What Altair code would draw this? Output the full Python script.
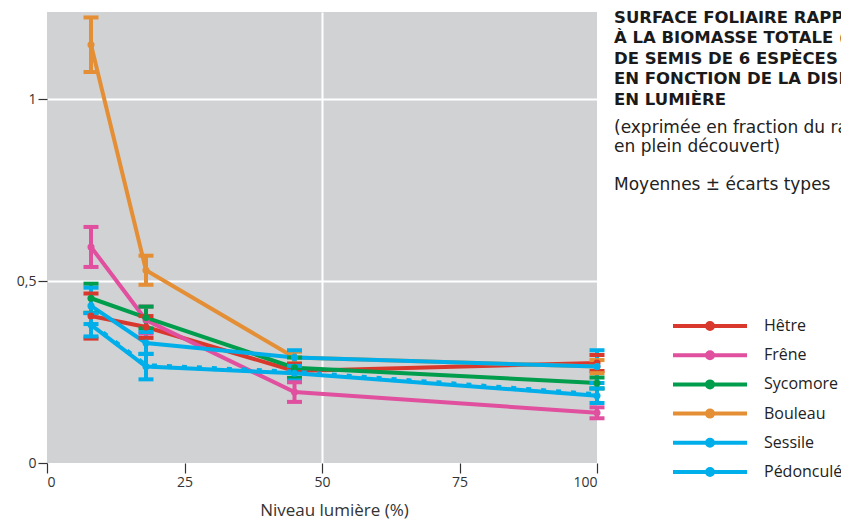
import altair as alt
import pandas as pd

# ---- data ----
light = [8, 18, 45, 100]
species = ["Hêtre", "Frêne", "Sycomore", "Bouleau", "Sessile", "Pédonculé"]
colors = ["#d9382c", "#e0509e", "#009d4c", "#e48f35", "#00aeea", "#00aeea"]

hetre_mean = [0.404, 0.374, 0.253, 0.275]
hetre_sd = [0.062, 0.030, 0.020, 0.022]
frene_mean = [0.594, 0.393, 0.195, 0.138]
frene_sd = [0.055, 0.037, 0.027, 0.015]
sycomore_mean = [0.453, 0.400, 0.262, 0.220]
sycomore_sd = [0.040, 0.030, 0.028, 0.015]
bouleau_mean = [1.150, 0.530, 0.290, 0.265]
bouleau_sd = [0.075, 0.040, 0.016, 0.018]
sessile_mean = [0.432, 0.330, 0.290, 0.265]
sessile_sd = [0.050, 0.030, 0.020, 0.045]
pedoncule_mean = [0.380, 0.265, 0.247, 0.185]
pedoncule_sd = [0.032, 0.035, 0.020, 0.020]

x_ticks = [0, 25, 50, 75, 100]
y_ticks = [0, 0.5, 1]

title_lines = [
    "SURFACE FOLIAIRE RAPPORTÉE",
    "À LA BIOMASSE TOTALE (LAR)",
    "DE SEMIS DE 6 ESPÈCES",
    "EN FONCTION DE LA DISPONIBILITÉ",
    "EN LUMIÈRE",
]
subtitle_lines = [
    "(exprimée en fraction du rayonnement",
    "en plein découvert)",
    "\u200b",
    "Moyennes ± écarts types",
]

means = [hetre_mean, frene_mean, sycomore_mean, bouleau_mean, sessile_mean, pedoncule_mean]
sds = [hetre_sd, frene_sd, sycomore_sd, bouleau_sd, sessile_sd, pedoncule_sd]

rows = []
for sp, m, s in zip(species, means, sds):
    for xv, mv, sv in zip(light, m, s):
        rows.append({"species": sp, "x": xv, "y": mv, "lo": mv - sv, "hi": mv + sv})
df = pd.DataFrame(rows)

FONT = "Open Sans"
TFONT = "DejaVu Sans"

color_scale = alt.Scale(domain=species, range=colors)
x_scale = alt.Scale(domain=[0, 100], nice=False, zero=True)
y_scale = alt.Scale(domain=[0, 1.24], nice=False, zero=True)

x_axis = alt.Axis(
    values=x_ticks, title="Niveau lumière (%)", domain=False,
    tickSize=10, tickColor="#333333", tickWidth=1.2,
    labelFontSize=14, labelColor="#333333", labelPadding=2, labelFont=FONT,
    titleFontSize=17, titleFontWeight="normal", titleColor="#333333", titleFont=FONT,
    titlePadding=13, titleX=287,
    grid=True, gridColor="white", gridWidth=2,
    gridOpacity=alt.condition("datum.value == 50", alt.value(1), alt.value(0)),
)
y_axis = alt.Axis(
    values=y_ticks, title=None, domain=False,
    tickSize=9, tickColor="#333333", tickWidth=1.2,
    labelFontSize=14, labelColor="#333333", labelPadding=2, labelFont=FONT,
    labelExpr="replace(format(datum.value, '~g'), '.', ',')",
    grid=True, gridColor="white", gridWidth=2,
    gridOpacity=alt.condition("datum.value > 0", alt.value(1), alt.value(0)),
)

color = alt.Color("species:N", scale=color_scale, legend=alt.Legend(title=None), title=None)
color_nolegend = alt.Color("species:N", scale=color_scale, legend=None)

base = alt.Chart(df)

lines = base.mark_line(strokeWidth=4).encode(
    x=alt.X("x:Q", scale=x_scale, axis=x_axis),
    y=alt.Y("y:Q", scale=y_scale, axis=y_axis),
    color=color,
)

# notched pattern on the Pédonculé line
pedoncule_notches = base.transform_filter(
    alt.datum.species == species[5]
).mark_line(strokeWidth=5, strokeDash=[5, 10], yOffset=-1).encode(
    x="x:Q", y="y:Q", color=color_nolegend,
)

rules = base.mark_rule(strokeWidth=4).encode(
    x="x:Q", y="lo:Q", y2="hi:Q", color=color,
)
caps_lo = base.mark_tick(thickness=4, size=15, orient="horizontal", opacity=1).encode(
    x="x:Q", y="lo:Q", color=color,
)
caps_hi = base.mark_tick(thickness=4, size=15, orient="horizontal", opacity=1).encode(
    x="x:Q", y="hi:Q", color=color,
)
points = base.mark_circle(size=50, opacity=1).encode(
    x="x:Q", y="y:Q", color=color,
)

chart = alt.layer(lines, pedoncule_notches, rules, caps_lo, caps_hi, points).properties(
    width=550,
    height=451,
    autosize=alt.AutoSizeParams(type="none"),
    padding={"left": 39, "top": 4, "right": 244, "bottom": 57},
    title=alt.TitleParams(
        text=title_lines, subtitle=subtitle_lines,
        anchor="start", frame="group", orient="top",
        dx=567, dy=185,
        font=TFONT, fontSize=16.5, fontWeight="bold", color="#1a1a1a", lineHeight=20.5,
        subtitleFont=TFONT, subtitleFontSize=17, subtitleColor="#222222",
        subtitleLineHeight=19, subtitlePadding=12,
    ),
).configure_view(
    fill="#d1d2d4", stroke=None,
).configure_legend(
    orient="none", legendX=651, legendY=302,
    symbolType="M-3.7,0H3.7M0.3,0A0.3,0.3,0,1,1,-0.3,0A0.3,0.3,0,1,1,0.3,0Z",
    symbolSize=400, symbolStrokeWidth=4, symbolOpacity=1,
    labelFontSize=16, labelFont=FONT, labelColor="#222222", labelOffset=42,
    rowPadding=6.2, padding=0,
)

chart.save("out.html", embed_options={"renderer": "svg", "actions": False})
